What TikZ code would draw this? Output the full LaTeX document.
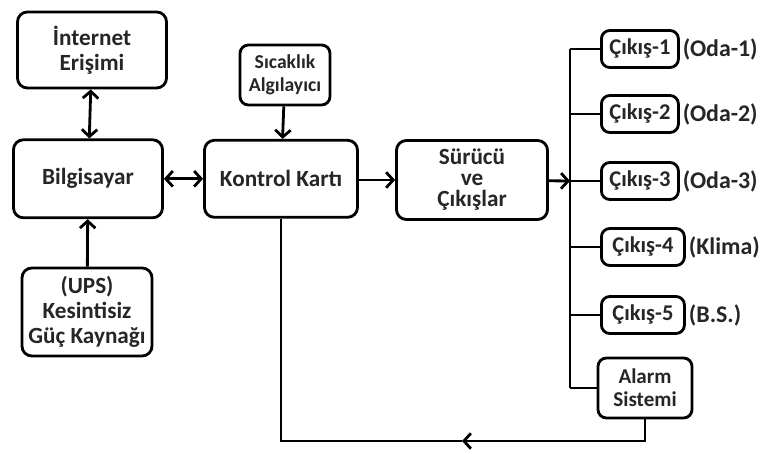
\documentclass[tikz,border=0pt]{standalone}
\usepackage{fontspec}
\setmainfont{Carlito}
\usetikzlibrary{arrows.meta, positioning, calc}

\begin{document}
\begin{tikzpicture}[
        block/.style={
            rectangle,
            draw=black,
            line width=2pt,
            fill=white,
            rounded corners=7pt,
            align=center,
            text=black!85,
            font=\bfseries\fontsize{16.5}{17.5}\selectfont,
            inner sep=2pt
        },
        smallblock/.style={block, font=\bfseries\fontsize{14}{16}\selectfont, rounded corners=6pt},
        outblock/.style={block, anchor=west, minimum width=1.925cm, minimum height=0.925cm,
            inner xsep=2pt, rounded corners=6pt, font=\bfseries\fontsize{16}{17}\selectfont},
        tag/.style={text=black!85, font=\bfseries\fontsize{17}{18}\selectfont, inner sep=1pt},
        line/.style={line width=2pt, black},
        arrow/.style={line, -{Straight Barb[length=5pt, width=11pt]}},
        darrow/.style={line, {Straight Barb[length=5pt, width=11pt]}-{Straight Barb[length=5pt, width=11pt]}}
    ]

    \useasboundingbox (0,0) rectangle (19,11.35);

    % --- NODES ---
    \node (inet) [block, minimum width=3.725cm, minimum height=1.9cm] at (2.3,10.1) {İnternet\\Erişimi};
    \node (pc) [block, minimum width=3.725cm, minimum height=1.95cm] at (2.2,6.88) {Bilgisayar};
    \node (ups) [block, minimum width=3.25cm, minimum height=2.2cm, font=\bfseries\fontsize{16.5}{18}\selectfont] at (2.175,3.55) {(UPS)\\Kesintisiz\\Güç Kaynağı};
    \node (sensor) [smallblock, minimum width=2.25cm, minimum height=1.5cm] at (7.125,9.475) {Sıcaklık\\Algılayıcı};
    \node (ctrl) [block, minimum width=3.825cm, minimum height=1.925cm] at (7.025,6.88) {Kontrol Kartı};
    \node (drv) [block, minimum width=3.775cm, minimum height=1.975cm, font=\bfseries\fontsize{16.5}{15}\selectfont] at (11.8,6.85) {Sürücü\\ve\\Çıkışlar};

    \node (out1) [outblock] at (15,10.125) {Çıkış-1};
    \node (out2) [outblock] at (15,8.5) {Çıkış-2};
    \node (out3) [outblock] at (15,6.825) {Çıkış-3};
    \node (out4) [outblock, minimum width=2.075cm] at (15,5.175) {Çıkış-4};
    \node (out5) [outblock, minimum width=2.075cm] at (15,3.475) {Çıkış-5};
    \node (alarm) [smallblock, minimum width=2.35cm, minimum height=1.5cm, font=\bfseries\fontsize{15}{16.5}\selectfont] at (16.125,1.65) {Alarm\\Sistemi};

    \node (tag1) [tag, right=1pt of out1] {(Oda-1)};
    \node (tag2) [tag, right=1pt of out2] {(Oda-2)};
    \node (tag3) [tag, right=1pt of out3] {(Oda-3)};
    \node (tag4) [tag, right=1pt of out4] {(Klima)};
    \node (tag5) [tag, right=1pt of out5] {(B.S.)};

    % --- BUS ---
    \coordinate (bus) at (14.25,6.825);
    \coordinate (bustop) at (out1.west -| bus);
    \coordinate (busbot) at (alarm.west -| bus);
    \coordinate (back) at (11.55,0.325);

    % --- ARROWS ---
    \draw [darrow] (inet) -- (pc);
    \draw [arrow] (ups) -- (pc);
    \draw [darrow] (pc) -- (ctrl);
    \draw [arrow] (sensor) -- (ctrl);
    \draw [arrow] (ctrl.east |- drv) -- (drv);
    \draw [arrow] (drv) -- (bus);

    \draw [line] (bustop) -- (busbot);
    \draw [line] (bus) -- (out3);
    \foreach \o in {out1, out2, out4, out5, alarm}
        \draw [line] (\o.west -| bus) -- (\o.west);

    % --- FEEDBACK ---
    \draw [arrow] (alarm.south) |- (back);
    \draw [line] (back) -| (ctrl.south);

\end{tikzpicture}
\end{document}
